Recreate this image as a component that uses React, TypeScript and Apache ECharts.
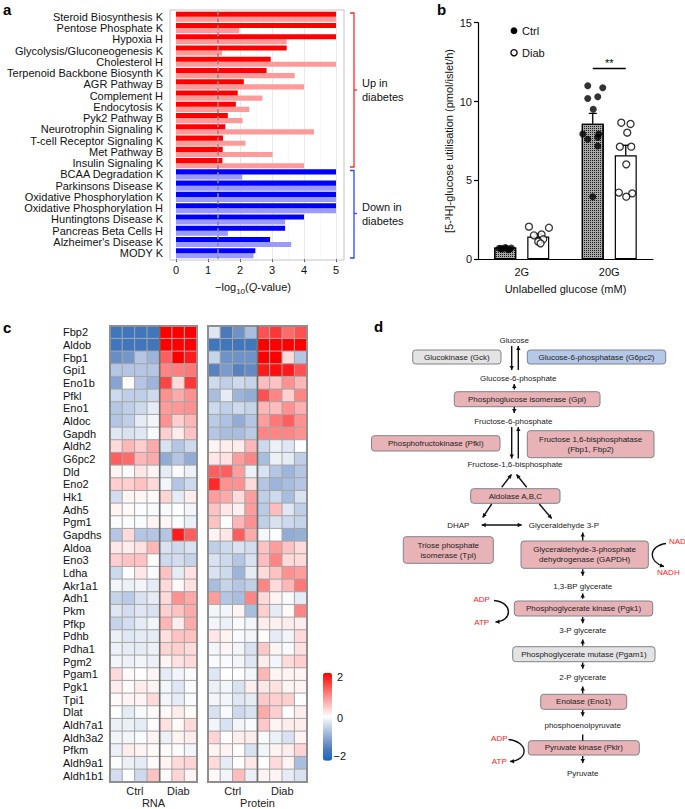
import React, { useEffect, useRef } from "react";
import * as echarts from "echarts";

const FONT = "'Liberation Sans', Arial, Helvetica, sans-serif";

// ---------- Panel a ----------
const pathways = [
  "Steroid Biosynthesis K", "Pentose Phosphate K", "Hypoxia H", "Glycolysis/Gluconeogenesis K",
  "Cholesterol H", "Terpenoid Backbone Biosynth K", "AGR Pathway B", "Complement H",
  "Endocytosis K", "Pyk2 Pathway B", "Neurotrophin Signaling K", "T-cell Receptor Signaling K",
  "Met Pathway B", "Insulin Signaling K", "BCAA Degradation K", "Parkinsons Disease K",
  "Oxidative Phosphorylation K", "Oxidative Phosphorylation H", "Huntingtons Disease K",
  "Pancreas Beta Cells H", "Alzheimer's Disease K", "MODY K",
];
const pathwayDirection = [
  "up", "up", "up", "up", "up", "up", "up", "up", "up", "up", "up", "up", "up", "up",
  "down", "down", "down", "down", "down", "down", "down", "down",
];
const qValueDark = [5, 5, 5, 3.46, 2.96, 2.83, 2.12, 1.93, 1.87, 1.62, 1.54, 1.47, 1.46, 1.45, 5, 5, 5, 5, 4.0, 3.41, 2.94, 2.48];
const qValueLight = [5, 1.98, 3.46, 1.44, 5, 3.71, 4.0, 2.7, 2.29, 2.08, 4.31, 2.17, 3.02, 4.0, 2.07, 5, 5, 5, 3.41, 1.62, 3.6, 2.42];
const qThreshold = 1.3;

// ---------- Panel b ----------
const glucoseConditions = ["2G", "20G"];
const ctrlMean = [0.75, 8.6];
const ctrlSem = [0.04, 0.65];
const diabMean = [1.45, 6.6];
const diabSem = [0.15, 0.63];
const ctrlPoints2G = [0.7, 0.65, 0.75, 0.6, 0.72, 0.68, 0.62, 0.7];
const ctrlJitter2G = [-6, -3, 0, 3, 6, -4, 4, 1];
const diabPoints2G = [2.07, 2.0, 1.52, 1.58, 1.27, 1.12, 1.01];
const diabJitter2G = [-9.3, 10.7, -4.3, 3.3, 5, 0, 2.3];
const ctrlPoints20G = [11.0, 10.88, 10.2, 10.31, 9.51, 7.94, 7.94, 7.61, 7.73, 7.18, 3.97];
const ctrlJitter20G = [-5, 10, -5, 5, 0.5, -10, 6, -5, 5, 5, 0];
const diabPoints20G = [8.66, 8.58, 8.03, 7.14, 7.14, 6.02, 4.23, 4.18, 3.97];
const diabJitter20G = [-4.5, 4.8, 1.5, -5.9, 5.5, 0.5, -6.9, 6.5, 0.5];
const sigLevel = 12.1;

// ---------- Panel c ----------
const genes = [
  "Fbp2", "Aldob", "Fbp1", "Gpi1", "Eno1b", "Pfkl", "Eno1", "Aldoc", "Gapdh", "Aldh2", "G6pc2",
  "Dld", "Eno2", "Hk1", "Adh5", "Pgm1", "Gapdhs", "Aldoa", "Eno3", "Ldha", "Akr1a1", "Adh1",
  "Pkm", "Pfkp", "Pdhb", "Pdha1", "Pgm2", "Pgam1", "Pgk1", "Tpi1", "Dlat", "Aldh7a1", "Aldh3a2",
  "Pfkm", "Aldh9a1", "Aldh1b1",
];
const rnaSamples = ["C1", "C2", "C3", "C4", "D1", "D2", "D3"];
const proteinSamples = ["C1", "C2", "C3", "C4", "D1", "D2", "D3", "D4"];
const rnaValues = [
  [-1.6, -1.6, -1.6, -1.6, 2, 2, 2],
  [-1.6, -1.6, -1.6, -1.6, 2, 2, 2],
  [-1.25, -1.15, -0.6, -0.8, 1.3, 2, 1.8],
  [-0.6, -0.6, -0.6, -0.6, 1.0, 1.05, 1.1],
  [-1.0, 0.03, -0.6, -0.8, 1.5, 0.3, 1.6],
  [-0.4, -0.5, -0.5, -0.4, 0.9, 0.7, 0.9],
  [-0.6, -0.5, -0.4, -0.2, 0.8, 0.85, 0.9],
  [-0.6, -0.5, -0.2, -0.1, 0.9, 0.4, 0.6],
  [-0.25, -0.3, -0.25, -0.05, 0.4, 0.15, 0.5],
  [0.3, 0.6, 0.4, 0.7, -0.3, -0.6, -0.4],
  [1.3, 1.2, 0.6, 0.7, -0.9, -0.6, -0.9],
  [0.1, -0.05, 0.2, 0.1, -0.2, -0.05, -0.15],
  [0.4, 0.4, 0.5, 0.3, -0.1, -0.6, -0.4],
  [-0.35, 0.1, 0.08, 0.05, 0.35, -0.2, 0.15],
  [0.1, 0.05, -0.03, -0.05, -0.05, -0.02, -0.1],
  [-0.04, -0.04, -0.04, 0.1, 0.08, -0.03, -0.15],
  [-0.6, 0.3, -0.6, -0.6, -0.6, 1.8, 1.3],
  [0.2, 0.15, 0.25, 0.6, -0.3, -0.4, -0.3],
  [0.4, 0.5, 0.5, 0.05, -0.4, -0.35, -0.45],
  [-0.4, -0.03, 0.2, -0.05, 0.5, -0.2, 0.25],
  [-0.1, -0.15, -0.1, -0.2, 0.3, 0.05, 0.25],
  [-0.45, -0.55, -0.3, -0.2, 0.3, 0.9, 0.7],
  [-0.25, -0.35, -0.25, -0.3, 0.4, 0.5, 0.7],
  [-0.45, -0.35, -0.2, -0.1, 0.6, 0.15, 0.7],
  [-0.15, -0.25, -0.2, -0.2, 0.25, 0.5, 0.5],
  [-0.15, -0.2, -0.2, -0.15, 0.35, 0.4, 0.3],
  [-0.1, -0.15, -0.1, -0.15, 0.1, 0.25, 0.3],
  [0.3, 0.05, 0.02, 0.08, -0.2, -0.1, -0.05],
  [0.15, 0.03, 0.15, 0.1, -0.1, -0.25, -0.03],
  [0.05, 0.1, 0.1, 0.3, -0.1, -0.2, -0.05],
  [-0.03, -0.2, -0.05, 0.05, 0.05, 0.15, 0.03],
  [-0.15, -0.15, -0.2, -0.03, 0.25, 0.05, 0.3],
  [-0.1, -0.1, -0.05, 0.1, -0.15, 0.1, 0.15],
  [-0.15, 0.15, 0.1, 0.03, 0.03, 0.03, -0.1],
  [-0.03, -0.15, -0.2, 0.05, 0.1, 0.3, 0.35],
  [-0.35, -0.03, -0.4, 0.5, 0.05, 0.35, 0.1],
];
const proteinValues = [
  [-0.25, -1.5, -1.2, -0.7, 1.4, 1.6, 1.2, 1.4],
  [-1.6, -1.6, -1.6, -1.6, 2, 2, 2, 2],
  [-0.45, -1.2, -1.2, -1.2, 2, 2, 0.3, -0.6],
  [-1.4, -1.1, -1.4, -1.3, 1.8, 1.9, 1.8, 1.4],
  [-0.4, -0.5, -0.4, -0.45, 0.55, 0.5, 0.9, 0.6],
  [-0.7, -0.2, -0.8, -0.9, 1.4, 1.0, 0.4, 1.0],
  [-0.4, -0.5, -0.4, -0.45, 0.6, 0.55, 0.9, 0.65],
  [-0.55, -0.65, -0.9, -0.6, 0.8, 1.1, 1.3, 0.9],
  [-0.6, -0.7, -0.7, -0.55, 1.0, 1.0, 1.0, 0.9],
  [0.1, 0.15, 0.15, 0.6, -0.4, -0.15, -0.25, -0.02],
  [0.2, 0.25, 0.8, 1.0, -0.7, -0.15, -0.2, -0.5],
  [1.3, 1.3, 0.8, -0.15, -0.3, -0.6, -0.8, -0.6],
  [1.7, 0.9, 0.9, 0.3, -0.6, -0.8, -0.7, -0.6],
  [0.8, 0.7, 0.3, 0.8, -0.5, -0.4, -0.7, -0.3],
  [0.5, 0.2, 0.12, 0.8, -0.55, 0.55, -0.25, -0.5],
  [0.5, -0.03, 0.6, 0.9, -0.5, -0.3, -0.4, -0.45],
  [0.1, 0.2, 1.3, 0.7, -0.08, -0.03, -0.9, -0.85],
  [-0.5, -0.4, -0.3, -0.35, 0.5, 0.8, 0.5, 0.3],
  [-0.3, -0.4, -0.6, -0.3, 0.55, 1.0, 0.3, 0.3],
  [-0.3, -0.4, -0.8, -0.2, 0.3, 0.5, 0.9, 0.8],
  [-0.7, -0.45, -0.6, -0.5, 1.0, 0.3, 0.6, 1.1],
  [0.8, -0.6, -0.7, 1.0, 0.3, 0.1, -0.05, -0.2],
  [-0.1, -0.1, 0.1, -0.7, 0.4, -0.2, 0.03, 1.0],
  [-0.1, -0.15, -0.05, -0.1, 0.15, 0.12, 0.15, 0.15],
  [0.2, 0.1, -0.05, -0.1, 0.03, -0.2, -0.1, 0.3],
  [-0.1, 0.1, -0.1, -0.3, 0.45, 0.1, -0.05, 0.25],
  [-0.05, -0.05, -0.1, -0.25, 0.15, -0.1, 0.3, 0.4],
  [-0.25, 0.02, 0.02, -0.1, 0.6, 0.1, 0.1, 0.1],
  [-0.15, -0.1, -0.3, 0.15, 0.2, 0.25, 0.1, 0.1],
  [-0.1, -0.1, -0.25, -0.2, 0.45, 0.4, 0.4, 0.02],
  [-0.3, -0.05, -0.4, -0.3, 0.7, 0.4, 0.02, 0.15],
  [-0.1, -0.3, -0.1, -0.05, 0.45, 0.1, 0.15, 0.15],
  [0.35, 0.02, 0.15, 0.15, -0.05, -0.15, -0.3, 0.1],
  [0.1, 0.1, 0.01, -0.3, -0.1, 0.1, 0.15, 0.35],
  [0.3, -0.2, 0.02, 0.2, 0.02, 0.3, 0.1, -0.7],
  [0.05, -0.1, 0.55, -0.15, 0.1, 0.1, -0.2, -0.3],
];
const heatTicks = ["2", "0", "\u22122"];

// ---------- layout constants ----------
const A = { left: 176, width: 160, top: 11.13, height: 247.74, boxL: 170, boxT: 10, boxR: 344, boxB: 260 };
const B = { left: 478, width: 175, top: 22.7, height: 236.6 };
const BAR_OFF = 16.5;
const RNA = { left: 110, top: 326, width: 87, height: 456 };
const PROT = { left: 208, top: 326, width: 99, height: 456 };

// ---------- graphics helpers ----------
const PINK = "#e8b3b7";
const GREY = "#e3e3e3";
const BLUE = "#b6c8e8";
const EDGE = "#80808a";
const TXT = "#222";

function txt(x: number, y: number, s: string, opts: any = {}) {
  return {
    type: "text",
    silent: true,
    style: {
      x, y, text: s,
      fill: opts.fill || TXT,
      font: opts.font || `8px ${FONT}`,
      align: opts.align || "center",
      verticalAlign: "middle",
      lineHeight: opts.lineHeight || 10,
    },
    z: 20,
  };
}
function box(x: number, y: number, w: number, h: number, fill: string, label: string) {
  return [
    { type: "rect", silent: true, shape: { x, y, width: w, height: h, r: 3 }, style: { fill, stroke: EDGE, lineWidth: 1 }, z: 19 },
    txt(x + w / 2, y + h / 2, label),
  ];
}
function head(tx: number, ty: number, fx: number, fy: number, color = "#111") {
  const dx = tx - fx, dy = ty - fy;
  const len = Math.hypot(dx, dy) || 1;
  const ux = dx / len, uy = dy / len;
  const L = 4, W = 2.2;
  const bx = tx - ux * L, by = ty - uy * L;
  return {
    type: "polygon", silent: true, z: 20,
    shape: { points: [[tx, ty], [bx - uy * W, by + ux * W], [bx + uy * W, by - ux * W]] },
    style: { fill: color },
  };
}
function arrow(x1: number, y1: number, x2: number, y2: number, both = false, noHead = false) {
  const els: any[] = [
    { type: "line", silent: true, z: 20, shape: { x1, y1, x2, y2 }, style: { stroke: "#111", lineWidth: 1.4 } },
  ];
  if (!noHead) els.push(head(x2, y2, x1, y1));
  if (both) els.push(head(x1, y1, x2, y2));
  return els;
}
function curve(x1: number, y1: number, cx1: number, cy1: number, cx2: number, cy2: number, x2: number, y2: number) {
  return [
    { type: "bezierCurve", silent: true, z: 20, shape: { x1, y1, cpx1: cx1, cpy1: cy1, cpx2: cx2, cpy2: cy2, x2, y2 }, style: { stroke: "#111", lineWidth: 1.4, fill: null } },
    head(x2, y2, cx2, cy2),
  ];
}

export default function App() {
  const ref = useRef<HTMLDivElement>(null);

  useEffect(() => {
    if (!ref.current) return;
    const chart = echarts.init(ref.current, null, { renderer: "svg" });

    const upDown = (i: number, light: boolean) =>
      pathwayDirection[i] === "up" ? (light ? "#ff9a9a" : "#ff0000") : light ? "#9a9aff" : "#0000ff";

    const unit = B.width / 2; // px per value unit on overlay axis
    const pts = (vals: number[], jit: number[], cat: number, side: number) =>
      vals.map((v, i) => [cat + 0.5 + (side * BAR_OFF + jit[i]) / unit, v]);

    const rnaData: any[] = [];
    rnaValues.forEach((row, r) => row.forEach((v, c) => rnaData.push([c, r, v])));
    const protData: any[] = [];
    proteinValues.forEach((row, r) => row.forEach((v, c) => protData.push([c, r, v])));

    const heatDeco = (g: any, n: number, nCtrl: number, title: string) => {
      const cw = g.width / n;
      const sepX = g.left + nCtrl * cw;
      return [
        { type: "rect", silent: true, z: 15, shape: { x: g.left, y: g.top, width: g.width, height: g.height }, style: { fill: null, stroke: "#8f8f8f", lineWidth: 2 } },
        { type: "line", silent: true, z: 15, shape: { x1: sepX, y1: g.top, x2: sepX, y2: g.top + g.height }, style: { stroke: "#6f6f6f", lineWidth: 1.6 } },
        txt(g.left + (nCtrl / 2) * cw, g.top + g.height + 8.5, "Ctrl", { font: `11px ${FONT}` }),
        txt(g.left + (nCtrl + (n - nCtrl) / 2) * cw, g.top + g.height + 8.5, "Diab", { font: `11px ${FONT}` }),
        txt(g.left + g.width / 2, g.top + g.height + 20.5, title, { font: `11px ${FONT}` }),
      ];
    };

    const graphic: any[] = [
      txt(3, 9, "a", { font: `bold 15px ${FONT}`, align: "left", fill: "#000" }),
      txt(437, 9, "b", { font: `bold 15px ${FONT}`, align: "left", fill: "#000" }),
      txt(3, 327, "c", { font: `bold 15px ${FONT}`, align: "left", fill: "#000" }),
      txt(374, 326, "d", { font: `bold 15px ${FONT}`, align: "left", fill: "#000" }),
      { type: "rect", silent: true, z: 1, shape: { x: A.boxL, y: A.boxT, width: A.boxR - A.boxL, height: A.boxB - A.boxT }, style: { fill: null, stroke: "#c4c4c4", lineWidth: 1 } },
      { type: "polyline", silent: true, shape: { points: [[350, 13], [354, 13], [354, 167], [350, 167]] }, style: { stroke: "#ff2a2a", lineWidth: 1.3, fill: null } },
      { type: "line", silent: true, shape: { x1: 354, y1: 90, x2: 357, y2: 90 }, style: { stroke: "#ff2a2a", lineWidth: 1.3 } },
      { type: "polyline", silent: true, shape: { points: [[350, 170.5], [354, 170.5], [354, 258], [350, 258]] }, style: { stroke: "#2a4aff", lineWidth: 1.3, fill: null } },
      { type: "line", silent: true, shape: { x1: 354, y1: 213.5, x2: 357, y2: 213.5 }, style: { stroke: "#2a4aff", lineWidth: 1.3 } },
      txt(362, 83, "Up in", { font: `11px ${FONT}`, align: "left", fill: "#111" }),
      txt(362, 97, "diabetes", { font: `11px ${FONT}`, align: "left", fill: "#111" }),
      txt(362, 207, "Down in", { font: `11px ${FONT}`, align: "left", fill: "#111" }),
      txt(362, 221, "diabetes", { font: `11px ${FONT}`, align: "left", fill: "#111" }),
      {
        type: "text", silent: true, z: 20,
        style: {
          x: 253, y: 287, align: "center", verticalAlign: "middle",
          text: "\u2212log{sub|10}({it|Q}-value)",
          font: `11px ${FONT}`, fill: "#111", lineHeight: 16,
          rich: {
            sub: { fontSize: 8, fontFamily: FONT, lineHeight: 16, verticalAlign: "bottom", fill: "#111" },
            it: { fontSize: 11, fontStyle: "italic", fontFamily: FONT, lineHeight: 16, fill: "#111" },
          },
        },
      },
      { type: "circle", silent: true, z: 20, shape: { cx: 514, cy: 30.7, r: 3.4 }, style: { fill: "#000" } },
      txt(522, 30.7, "Ctrl", { font: `11px ${FONT}`, align: "left", fill: "#111" }),
      { type: "circle", silent: true, z: 20, shape: { cx: 514, cy: 52.7, r: 3.1 }, style: { fill: "#fff", stroke: "#000", lineWidth: 1.3 } },
      txt(522, 52.7, "Diab", { font: `11px ${FONT}`, align: "left", fill: "#111" }),
      ...heatDeco(RNA, rnaSamples.length, 4, "RNA"),
      ...heatDeco(PROT, proteinSamples.length, 4, "Protein"),
      txt(337, 676.7, heatTicks[0], { font: `11px ${FONT}`, align: "left", fill: "#111" }),
      txt(337, 718, heatTicks[1], { font: `11px ${FONT}`, align: "left", fill: "#111" }),
      txt(333.5, 756, heatTicks[2], { font: `11px ${FONT}`, align: "left", fill: "#111" }),
      // panel d: pathway
      txt(514.3, 340, "Glucose"),
      ...box(412.7, 350, 88.3, 14, GREY, "Glucokinase (Gck)"),
      ...box(527.3, 350, 138.4, 14, BLUE, "Glucose-6-phosphatase (G6pc2)"),
      ...arrow(511.7, 346, 511.7, 370),
      ...arrow(518.3, 370, 518.3, 346),
      txt(518.3, 378.3, "Glucose-6-phosphate"),
      ...arrow(514.3, 389.5, 514.3, 384),
      ...box(454.3, 391.7, 145.7, 15, PINK, "Phosphoglucose isomerase (Gpi)"),
      ...arrow(514.3, 407, 514.3, 413),
      txt(513.3, 421.7, "Fructose-6-phosphate"),
      ...arrow(511.7, 427, 511.7, 458.5),
      ...arrow(518.3, 458.5, 518.3, 427),
      ...box(371.5, 435.7, 128.5, 15.3, PINK, "Phosphofructokinase (Pfkl)"),
      ...box(527.3, 430.7, 126.7, 27, PINK, "Fructose 1,6-bisphosphatase\n(Fbp1, Fbp2)"),
      txt(515, 464.3, "Fructose-1,6-bisphosphate"),
      ...arrow(501.7, 487.3, 511.5, 474.5),
      ...arrow(526.7, 487.3, 516.5, 474.5),
      ...box(470.7, 488.7, 89.3, 14.6, PINK, "Aldolase A,B,C"),
      ...arrow(491.7, 504, 482.7, 517.5),
      ...arrow(539.3, 504, 551.7, 518.5),
      txt(458.3, 525, "DHAP"),
      ...arrow(481.7, 525, 521.7, 525, true),
      txt(564, 525, "Glyceraldehyde 3-P"),
      ...box(403.3, 536.7, 90, 26.6, PINK, "Triose phosphate\nisomerase (Tpi)"),
      ...arrow(582.7, 540.5, 582.7, 532.5),
      ...box(521, 541, 127.3, 27.3, PINK, "Glyceraldehyde-3-phosphate\ndehydrogenase (GAPDH)"),
      txt(669, 541.5, "NAD", { fill: "#ff1a1a", align: "left" }),
      ...curve(666, 543.5, 648, 546, 648, 562, 664, 566.5),
      txt(657, 572.5, "NADH", { fill: "#ff1a1a", align: "left" }),
      ...arrow(582.7, 569.3, 582.7, 575.7),
      txt(582.7, 586, "1,3-BP glycerate"),
      ...arrow(582.7, 598.8, 582.7, 593.5),
      txt(481.7, 599, "ADP", { fill: "#ff1a1a" }),
      ...curve(494, 600.5, 513, 602, 513, 621, 495.5, 622),
      txt(481.7, 622.7, "ATP", { fill: "#ff1a1a" }),
      ...box(514.3, 601, 138.4, 15, PINK, "Phosphoglycerate kinase (Pgk1)"),
      ...arrow(582.7, 617, 582.7, 623.3),
      txt(582.7, 630.7, "3-P glycerate"),
      ...arrow(582.7, 645.8, 582.7, 639.5),
      ...box(512.7, 646.7, 142.3, 15, GREY, "Phosphoglycerate mutase (Pgam1)"),
      ...arrow(582.7, 662.5, 582.7, 668.7),
      txt(582.7, 677.7, "2-P glycerate"),
      ...arrow(582.7, 693.5, 582.7, 686.5),
      ...box(540.7, 694.3, 86, 15, PINK, "Enolase (Eno1)"),
      ...arrow(582.7, 710, 582.7, 716.3),
      txt(582.7, 725, "phosphoenolpyruvate"),
      ...arrow(582.7, 734.5, 582.7, 740.7, false, true),
      txt(499.3, 738.3, "ADP", { fill: "#ff1a1a" }),
      ...curve(508.5, 739.5, 529, 742, 529, 760, 510, 761.5),
      txt(499.3, 761.2, "ATP", { fill: "#ff1a1a" }),
      ...box(528.3, 740.7, 111, 14.3, PINK, "Pyruvate kinase (Pklr)"),
      ...arrow(582.7, 756, 582.7, 763),
      txt(582.7, 773.3, "Pyruvate"),
    ];

    const option: any = {
      animation: false,
      textStyle: { fontFamily: FONT },
      grid: [
        { left: A.left, top: A.top, width: A.width, height: A.height },
        { left: B.left, top: B.top, width: B.width, height: B.height },
        { left: RNA.left, top: RNA.top, width: RNA.width, height: RNA.height },
        { left: PROT.left, top: PROT.top, width: PROT.width, height: PROT.height },
      ],
      xAxis: [
        {
          gridIndex: 0, type: "value", min: 0, max: 5, interval: 1,
          axisLine: { show: false },
          axisTick: { show: true, length: 3, lineStyle: { color: "#333" } },
          axisLabel: { fontSize: 11, color: "#111", margin: 6 },
          splitLine: { show: true, lineStyle: { color: "#e4e4e4", width: 0.8 } },
          minorTick: { show: false, splitNumber: 2 },
          minorSplitLine: { show: true, lineStyle: { color: "#f3f3f3", width: 0.6 } },
        },
        {
          gridIndex: 1, type: "category", data: glucoseConditions,
          axisLine: { lineStyle: { color: "#000", width: 1.2 } },
          axisTick: { alignWithLabel: true, length: 4, lineStyle: { color: "#000", width: 1.2 } },
          axisLabel: { fontSize: 11, color: "#111", margin: 7 },
          name: "Unlabelled glucose (mM)", nameLocation: "middle", nameGap: 24,
          nameTextStyle: { fontSize: 11, color: "#111" },
        },
        { gridIndex: 1, type: "value", min: 0, max: 2, show: false },
        { gridIndex: 2, type: "category", data: rnaSamples, show: false },
        { gridIndex: 3, type: "category", data: proteinSamples, show: false },
      ],
      yAxis: [
        {
          gridIndex: 0, type: "category", data: pathways, inverse: true,
          axisLine: { show: false }, axisTick: { show: false },
          axisLabel: { fontSize: 11, color: "#111", margin: 13, interval: 0 },
        },
        {
          gridIndex: 1, type: "value", min: 0, max: 15, interval: 5,
          axisLine: { show: true, lineStyle: { color: "#000", width: 1.2 } },
          axisTick: { show: true, length: 4, lineStyle: { color: "#000", width: 1.2 } },
          axisLabel: { fontSize: 11, color: "#111", margin: 6 },
          splitLine: { show: false },
          name: "[5-\u00B3H]-glucose utilisation (pmol/islet/h)", nameLocation: "middle", nameGap: 24,
          nameRotate: 90, nameTextStyle: { fontSize: 11, color: "#111" },
        },
        {
          gridIndex: 2, type: "category", data: genes, inverse: true,
          axisLine: { show: false }, axisTick: { show: false },
          axisLabel: { fontSize: 11, color: "#111", align: "left", margin: 47, interval: 0 },
        },
        {
          gridIndex: 3, type: "category", data: genes, inverse: true,
          axisLine: { show: false }, axisTick: { show: false }, axisLabel: { show: false },
        },
      ],
      visualMap: {
        type: "continuous", min: -2, max: 2, seriesIndex: [8, 9],
        orient: "vertical", left: 323, top: 672.7, itemWidth: 9, itemHeight: 88,
        calculable: false, padding: 0, show: true,
        inRange: {
          color: ["#0e68c9", "#4c79b9", "#86a3d1", "#c0cfe8", "#ffffff", "#ffc2c2", "#ff8585", "#ff4444", "#ff0000"],
        },
      },
      series: [
        {
          type: "bar", name: "dark", xAxisIndex: 0, yAxisIndex: 0,
          barCategoryGap: "10%", barGap: "0%",
          data: qValueDark.map((v, i) => ({ value: v, itemStyle: { color: upDown(i, false) } })),
          markLine: {
            silent: true, symbol: "none", label: { show: false },
            lineStyle: { color: "#8a8a8a", type: [4, 3], width: 1.6 },
            data: [{ xAxis: qThreshold }],
          },
          z: 3,
        },
        {
          type: "bar", name: "light", xAxisIndex: 0, yAxisIndex: 0,
          barCategoryGap: "10%", barGap: "0%",
          data: qValueLight.map((v, i) => ({ value: v, itemStyle: { color: upDown(i, true) } })),
          z: 2,
        },
        {
          type: "bar", name: "Ctrl mean", xAxisIndex: 1, yAxisIndex: 1,
          barWidth: 22, barGap: "50%",
          data: ctrlMean,
          itemStyle: {
            color: "#a8a8a8", borderColor: "#000", borderWidth: 1.2,
            decal: { symbol: "rect", symbolSize: 1, dashArrayX: [1, 1], dashArrayY: [1, 1], color: "#1a1a1a", rotation: 0 },
          },
          z: 2,
        },
        {
          type: "bar", name: "Diab mean", xAxisIndex: 1, yAxisIndex: 1,
          barWidth: 22, barGap: "50%",
          data: diabMean,
          itemStyle: { color: "#fff", borderColor: "#000", borderWidth: 1.2 },
          z: 2,
        },
        {
          type: "custom", name: "sem", xAxisIndex: 2, yAxisIndex: 1, z: 3,
          data: [
            ...ctrlMean.map((m, i) => [i + 0.5 - BAR_OFF / unit, m, ctrlSem[i]]),
            ...diabMean.map((m, i) => [i + 0.5 + BAR_OFF / unit, m, diabSem[i]]),
          ],
          renderItem: (params: any, api: any) => {
            const x = api.value(0), m = api.value(1), s = api.value(2);
            const p0 = api.coord([x, m]);
            const p1 = api.coord([x, m + s]);
            const st = { stroke: "#000", lineWidth: 1.3 };
            return {
              type: "group",
              children: [
                { type: "line", shape: { x1: p0[0], y1: p0[1], x2: p1[0], y2: p1[1] }, style: st },
                { type: "line", shape: { x1: p1[0] - 4, y1: p1[1], x2: p1[0] + 4, y2: p1[1] }, style: st },
              ],
            };
          },
        },
        {
          type: "scatter", name: "Ctrl", xAxisIndex: 2, yAxisIndex: 1, z: 4,
          symbol: "circle", symbolSize: 7,
          itemStyle: { color: "#000" },
          data: [...pts(ctrlPoints2G, ctrlJitter2G, 0, -1), ...pts(ctrlPoints20G, ctrlJitter20G, 1, -1)],
        },
        {
          type: "scatter", name: "Diab", xAxisIndex: 2, yAxisIndex: 1, z: 4,
          symbol: "circle", symbolSize: 7,
          itemStyle: { color: "#fff", borderColor: "#000", borderWidth: 1.3 },
          data: [...pts(diabPoints2G, diabJitter2G, 0, 1), ...pts(diabPoints20G, diabJitter20G, 1, 1)],
        },
        {
          type: "custom", name: "sig", xAxisIndex: 2, yAxisIndex: 1, z: 5,
          data: [[1.5 - BAR_OFF / unit, 1.5 + BAR_OFF / unit, sigLevel]],
          renderItem: (params: any, api: any) => {
            const a = api.coord([api.value(0), api.value(2)]);
            const b = api.coord([api.value(1), api.value(2)]);
            return {
              type: "group",
              children: [
                { type: "line", shape: { x1: a[0], y1: a[1], x2: b[0], y2: b[1] }, style: { stroke: "#000", lineWidth: 1.4 } },
                { type: "text", style: { x: (a[0] + b[0]) / 2, y: a[1] - 5, text: "**", align: "center", verticalAlign: "middle", font: `11px ${FONT}`, fill: "#000" } },
              ],
            };
          },
        },
        {
          type: "heatmap", name: "RNA", xAxisIndex: 3, yAxisIndex: 2,
          data: rnaData,
          itemStyle: { borderColor: "#a6a6a6", borderWidth: 1 },
          emphasis: { disabled: true },
        },
        {
          type: "heatmap", name: "Protein", xAxisIndex: 4, yAxisIndex: 3,
          data: protData,
          itemStyle: { borderColor: "#a6a6a6", borderWidth: 1 },
          emphasis: { disabled: true },
        },
      ],
      graphic,
    };

    chart.setOption(option);
    return () => chart.dispose();
  }, []);

  return (
    <div
      ref={ref}
      style={{ position: "absolute", left: 0, top: 0, width: 685, height: 809, background: "#fff" }}
    />
  );
}
